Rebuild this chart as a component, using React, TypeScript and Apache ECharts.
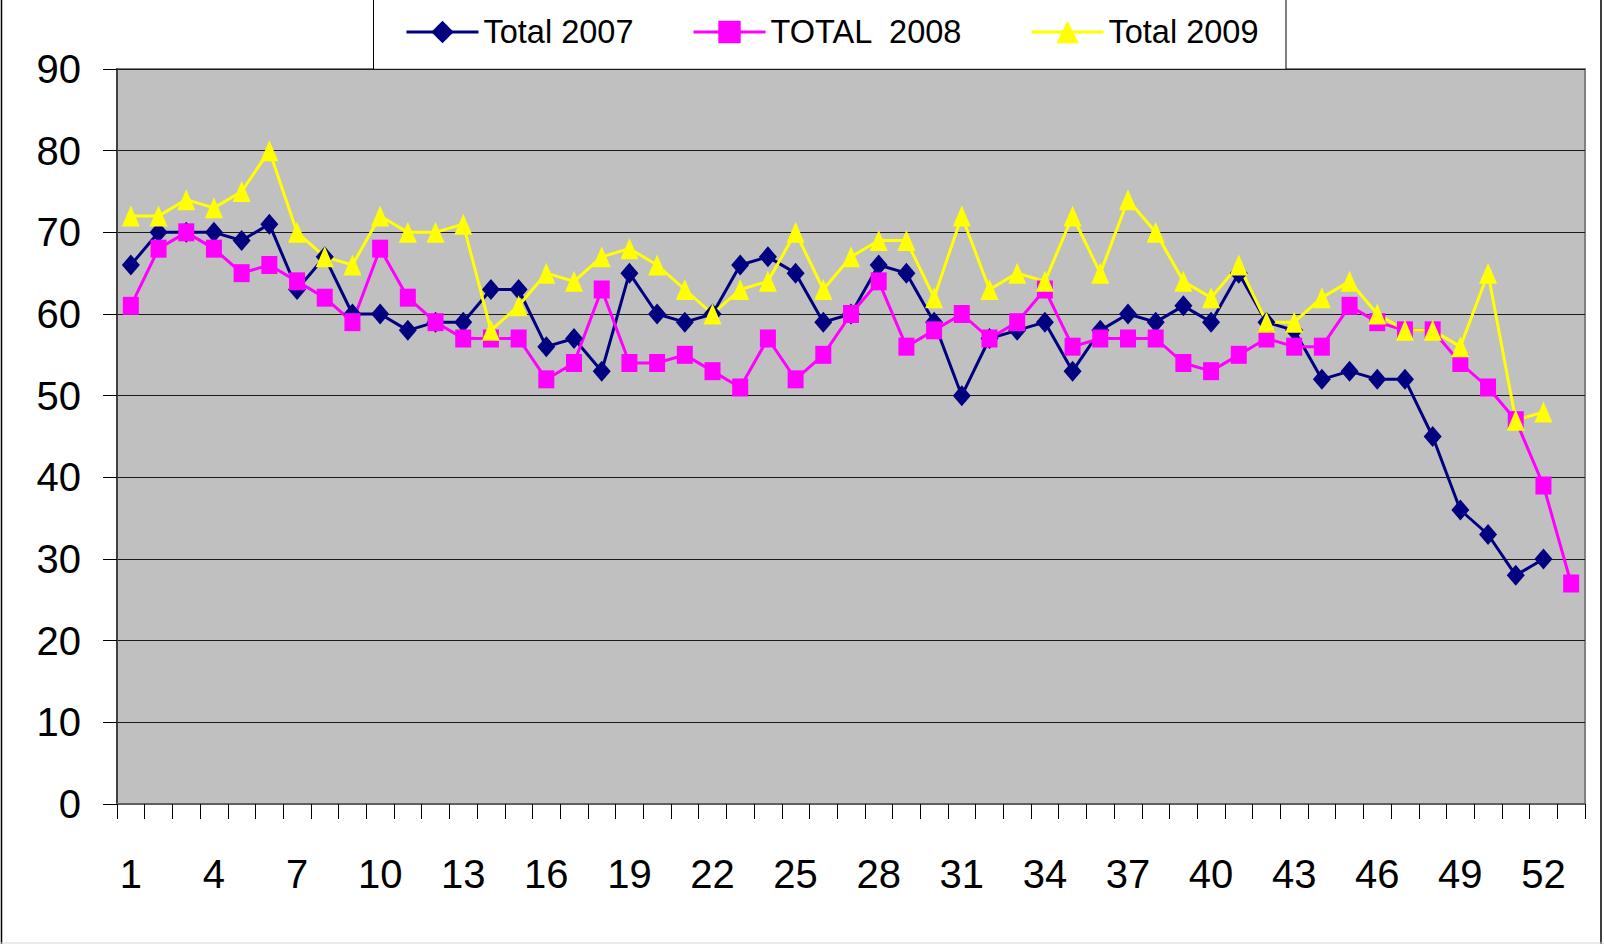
import React, { useEffect, useRef } from "react";
import * as echarts from "echarts";

const weeks = [
  "1", "2", "3", "4", "5", "6", "7", "8", "9", "10",
  "11", "12", "13", "14", "15", "16", "17", "18", "19", "20",
  "21", "22", "23", "24", "25", "26", "27", "28", "29", "30",
  "31", "32", "33", "34", "35", "36", "37", "38", "39", "40",
  "41", "42", "43", "44", "45", "46", "47", "48", "49", "50",
  "51", "52", "53",
];

const total2007 = [
  66, 70, 70, 70, 69, 71, 63, 67, 60, 60,
  58, 59, 59, 63, 63, 56, 57, 53, 65, 60,
  59, 60, 66, 67, 65, 59, 60, 66, 65, 59,
  50, 57, 58, 59, 53, 58, 60, 59, 61, 59,
  65, 59, 58, 52, 53, 52, 52, 45, 36, 33,
  28, 30, null,
];

const total2008 = [
  61, 68, 70, 68, 65, 66, 64, 62, 59, 68,
  62, 59, 57, 57, 57, 52, 54, 63, 54, 54,
  55, 53, 51, 57, 52, 55, 60, 64, 56, 58,
  60, 57, 59, 63, 56, 57, 57, 57, 54, 53,
  55, 57, 56, 56, 61, 59, 58, 58, 54, 51,
  47, 39, 27,
];

const total2009 = [
  72, 72, 74, 73, 75, 80, 70, 67, 66, 72,
  70, 70, 71, 58, 61, 65, 64, 67, 68, 66,
  63, 60, 63, 64, 70, 63, 67, 69, 69, 62,
  72, 63, 65, 64, 72, 65, 74, 70, 64, 62,
  66, 59, 59, 62, 64, 60, 58, 58, 56, 65,
  47, 48, null,
];

const seriesNames = ["Total 2007", "TOTAL  2008", "Total 2009"];
const yTicks = { min: 0, max: 90, interval: 10 };

const FONT = "'Liberation Sans', Arial, sans-serif";

export default function App() {
  const ref = useRef<HTMLDivElement>(null);

  useEffect(() => {
    if (!ref.current) return;
    const chart = echarts.init(ref.current, null, { renderer: "svg" });

    const legendBase = {
      top: 12,
      padding: 0,
      itemWidth: 72,
      itemHeight: 28,
      itemGap: 0,
      z: 10,
      lineStyle: { width: 3 },
      textStyle: {
        fontFamily: FONT,
        fontSize: 32.5,
        color: "#000",
        lineHeight: 40,
      },
    };

    chart.setOption({
      animation: false,
      backgroundColor: "#fff",
      textStyle: { fontFamily: FONT },
      graphic: [
        {
          type: "rect",
          z: 0,
          shape: { x: 373.5, y: -2, width: 912.5, height: 71.3 },
          style: { fill: "#fff", stroke: "#000", lineWidth: 1 },
        },
        {
          type: "line",
          z: 0,
          shape: { x1: 1.5, y1: 0, x2: 1.5, y2: 944 },
          style: { stroke: "#000", lineWidth: 1.5 },
        },
        {
          type: "line",
          z: 0,
          shape: { x1: 1601, y1: 0, x2: 1601, y2: 944 },
          style: { stroke: "#000", lineWidth: 1.5 },
        },
        {
          type: "line",
          z: 0,
          shape: { x1: 0, y1: 943, x2: 1604, y2: 943 },
          style: { stroke: "#d8d8d8", lineWidth: 1 },
        },
      ],
      legend: [
        { ...legendBase, left: 405, data: [seriesNames[0]] },
        { ...legendBase, left: 692, data: [seriesNames[1]] },
        { ...legendBase, left: 1030, data: [seriesNames[2]] },
      ],
      grid: {
        left: 117,
        right: 19,
        top: 69,
        bottom: 140,
        show: true,
        backgroundColor: "#c0c0c0",
        borderColor: "#808080",
        borderWidth: 2,
      },
      xAxis: {
        type: "category",
        data: weeks,
        boundaryGap: true,
        axisLine: { show: true, lineStyle: { color: "#606060", width: 2 } },
        axisTick: {
          show: true,
          interval: 0,
          length: 15,
          lineStyle: { color: "#000", width: 1 },
        },
        axisLabel: {
          interval: 2,
          fontSize: 40,
          fontFamily: FONT,
          color: "#000",
          margin: 50,
        },
        splitLine: { show: false },
      },
      yAxis: {
        type: "value",
        min: yTicks.min,
        max: yTicks.max,
        interval: yTicks.interval,
        axisLine: { show: true, lineStyle: { color: "#404040", width: 2 } },
        axisTick: {
          show: true,
          length: 14,
          lineStyle: { color: "#000", width: 1 },
        },
        axisLabel: {
          fontSize: 40,
          fontFamily: FONT,
          color: "#000",
          margin: 36,
        },
        splitLine: { show: true, lineStyle: { color: "#1a1a1a", width: 1.2 } },
      },
      series: [
        {
          name: seriesNames[0],
          type: "line",
          data: total2007,
          symbol: "diamond",
          symbolSize: [18, 21],
          showSymbol: true,
          showAllSymbol: true,
          color: "#000080",
          lineStyle: { color: "#000080", width: 3 },
          itemStyle: { color: "#000080" },
          connectNulls: false,
        },
        {
          name: seriesNames[1],
          type: "line",
          data: total2008,
          symbol: "rect",
          symbolSize: [16, 18],
          showSymbol: true,
          showAllSymbol: true,
          color: "#ff00ff",
          lineStyle: { color: "#ff00ff", width: 3 },
          itemStyle: { color: "#ff00ff" },
        },
        {
          name: seriesNames[2],
          type: "line",
          data: total2009,
          symbol: "triangle",
          symbolSize: [18, 21],
          showSymbol: true,
          showAllSymbol: true,
          color: "#ffff00",
          lineStyle: { color: "#ffff00", width: 3 },
          itemStyle: { color: "#ffff00" },
        },
      ],
    });

    return () => chart.dispose();
  }, []);

  return (
    <div
      ref={ref}
      style={{ position: "absolute", left: 0, top: 0, width: 1604, height: 944 }}
    />
  );
}
